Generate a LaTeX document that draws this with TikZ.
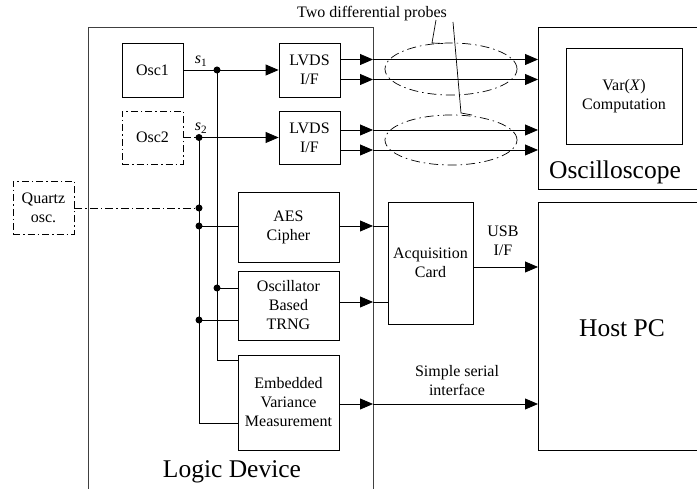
\documentclass[tikz,border=0pt]{standalone}
\usepackage{fontspec}
\setmainfont{Liberation Serif}
\usetikzlibrary{arrows.meta,shapes.geometric}
\begin{document}
\begin{tikzpicture}[x=1pt,y=-1pt,
  box/.style={draw, line width=0.8pt, inner sep=0pt, align=center, font=\fontsize{16}{19}\selectfont},
  ddbox/.style={box, dash pattern=on 7pt off 3pt on 1.5pt off 3pt},
  txt/.style={inner sep=0pt, align=center, font=\fontsize{16}{19}\selectfont},
  big/.style={inner sep=0pt, font=\fontsize{25.5}{30}\selectfont},
  conn/.style={line width=0.8pt},
  dd/.style={dash pattern=on 8pt off 3pt on 1.5pt off 3pt},
  arr/.style={conn, -{Triangle[length=13pt,width=11pt]}},
  dot/.style={circle, fill, inner sep=0pt, minimum size=7pt},
  probe/.style={draw, ellipse, line width=0.7pt, inner sep=0pt, dash pattern=on 9pt off 4pt on 1.5pt off 4pt},
  ]
\useasboundingbox (0,0) rectangle (697,489);

% Logic device frame (open at bottom)
\draw[conn, black!75] (88,489) -- (88,27) -- (373,27) -- (373,489);
\node[big] (ldlabel) at (232,472) {Logic Device};

% Oscilloscope frame (open to the right)
\draw[conn] (697,27) -- (538,27) -- (538,189) -- (697,189);
\node[big] (osclabel) at (615,172) {Oscilloscope};
\node[box, minimum width=116pt, minimum height=96pt] (var) at (624,96) {Var(\textit{X})\\Computation};

% Host PC frame
\draw[conn] (697,202) -- (538,202) -- (538,450) -- (697,450);
\node[big] (hostlabel) at (622,328) {Host PC};

% Blocks
\node[box, minimum width=61pt, minimum height=54pt] (osc1) at (152.5,70) {Osc1};
\node[box, minimum width=61pt, minimum height=54pt] (lvds1) at (309.5,70) {LVDS\\I/F};
\node[ddbox, minimum width=61pt, minimum height=53pt] (osc2) at (152.5,137.5) {Osc2};
\node[box, minimum width=61pt, minimum height=53pt] (lvds2) at (309.5,137.5) {LVDS\\I/F};
\node[ddbox, minimum width=61pt, minimum height=53pt] (quartz) at (43.5,207.5) {Quartz\\osc.};
\node[box, minimum width=101pt, minimum height=70pt] (aes) at (288.5,227) {AES\\Cipher};
\node[box, minimum width=101pt, minimum height=69pt] (trng) at (288.5,305.5) {Oscillator\\Based\\TRNG};
\node[box, minimum width=101pt, minimum height=95pt] (evm) at (288.5,402.5) {Embedded\\Variance\\Measurement};
\node[box, minimum width=85pt, minimum height=122pt] (acq) at (430.5,263) {Acquisition\\Card};

% signal labels
\node[txt] (s1) at (201,61) {\textit{s}\textsubscript{1}};
\node[txt] (s2) at (201,128) {\textit{s}\textsubscript{2}};

% Junction dots
\node[dot] (d1) at (217,70) {};
\node[dot] (d2) at (199,137.5) {};
\node[dot] (dq) at (199,208) {};
\node[dot] (da) at (199,226) {};
\node[dot] (dt1) at (217,288) {};
\node[dot] (dt2) at (199,320) {};

\coordinate (e1) at (238,360);
\coordinate (e2) at (238,423);

% clock distribution
\draw[arr] (osc1.east) -- (lvds1.west);
\draw[conn, dd] (osc2.east) -- (d2.center);
\draw[arr] (d2.center) -- (lvds2.west);
\draw[conn, dd] (quartz.east |- dq) -- (dq.center);
\draw[conn] (da.center) -- (da -| aes.west);
\draw[conn] (dt1.center) -- (dt1 -| trng.west);
\draw[conn] (dt2.center) -- (dt2 -| trng.west);
\draw[conn] (d1.center) |- (e1);
\draw[conn] (d2.center) |- (e2);

% LVDS outputs through the frame to the oscilloscope
\foreach \n/\y in {1/59.5, 2/79.5, 3/130, 4/150}{
  \coordinate (b\n) at (373,\y);
  \coordinate (o\n) at (538,\y);
}
\draw[arr] (lvds1.east |- b1) -- (b1);
\draw[arr] (b1) -- (o1);
\draw[arr] (lvds1.east |- b2) -- (b2);
\draw[arr] (b2) -- (o2);
\draw[arr] (lvds2.east |- b3) -- (b3);
\draw[arr] (b3) -- (o3);
\draw[arr] (lvds2.east |- b4) -- (b4);
\draw[arr] (b4) -- (o4);

% probes
\node[probe, minimum width=132pt, minimum height=52pt] (p1) at (451,69) {};
\node[probe, minimum width=132pt, minimum height=50pt] (p2) at (451,140) {};
\node[txt] (probes) at (372,14) {Two differential probes};
\coordinate (l1a) at (436,20);
\coordinate (l1b) at (432,43);
\coordinate (l1c) at (443,43.5);
\coordinate (l2a) at (453,22);
\coordinate (l2b) at (461,113);
\coordinate (l2c) at (472,115);
\draw[conn, line width=0.7pt] (l1a) -- (l1b) -- (l1c);
\draw[conn, line width=0.7pt] (l2a) -- (l2b) -- (l2c);

% AES and TRNG to acquisition card
\coordinate (ba) at (373,226);
\coordinate (bt) at (373,302);
\draw[arr] (aes.east |- ba) -- (ba);
\draw[conn] (ba) -- (ba -| acq.west);
\draw[arr] (trng.east |- bt) -- (bt);
\draw[conn] (bt) -- (bt -| acq.west);

% USB
\coordinate (hu) at (538,267);
\draw[arr] (acq.east |- hu) -- (hu);
\node[txt] (usb) at (503,241) {USB\\I/F};

% Simple serial interface
\coordinate (be) at (373,404);
\coordinate (he) at (538,404);
\draw[arr] (evm.east |- be) -- (be);
\draw[arr] (be) -- (he);
\node[txt] (ssi) at (457,381) {Simple serial\\interface};
\end{tikzpicture}
\end{document}
